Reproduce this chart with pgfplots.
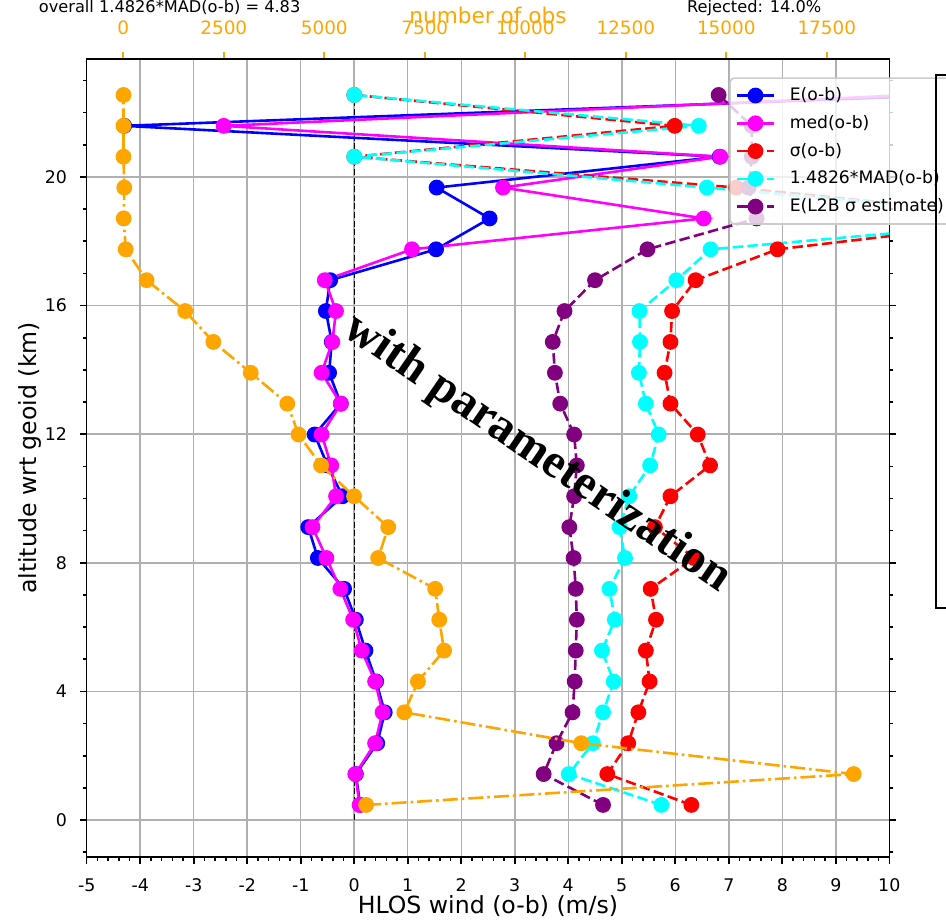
\documentclass[border=0pt]{standalone}
\usepackage{pgfplots}
\usepackage{pgfplotstable}
\pgfplotsset{compat=1.18}
\usepackage{fontspec}
\setmainfont{DejaVu Sans}
\newfontfamily\wmfont{Liberation Serif}
\definecolor{cB}{RGB}{0,0,255}
\definecolor{cM}{RGB}{255,0,255}
\definecolor{cR}{RGB}{255,0,0}
\definecolor{cC}{RGB}{0,255,255}
\definecolor{cP}{RGB}{128,0,128}
\definecolor{cO}{RGB}{255,165,0}
\definecolor{gridc}{RGB}{176,176,176}
\definecolor{legc}{RGB}{204,204,204}

\pgfplotstableread{
y     blue   mag    red    cyan   purp   obs
0.47  0.11   0.10   6.30   5.74   4.65   6040
1.43  0.03   0.02   4.73   4.01   3.54   18170
2.39  0.43   0.39   5.12   4.46   3.78   11390
3.35  0.57   0.53   5.31   4.65   4.08   6990
4.31  0.41   0.39   5.52   4.85   4.12   7330
5.27  0.21   0.14   5.45   4.63   4.14   7980
6.23  0.03   -0.02  5.64   4.87   4.16   7860
7.19  -0.19  -0.26  5.54   4.77   4.14   7760
8.15  -0.68  -0.52  6.35   5.06   4.10   6340
9.11  -0.86  -0.78  5.62   4.96   4.02   6590
10.07 -0.22  -0.34  5.91   5.14   4.11   5740
11.03 -0.50  -0.43  6.65   5.53   4.16   4920
11.99 -0.74  -0.61  6.42   5.69   4.11   4360
12.95 -0.25  -0.25  5.91   5.45   3.85   4080
13.91 -0.47  -0.61  5.80   5.32   3.75   3170
14.87 -0.42  -0.41  5.91   5.34   3.71   2240
15.83 -0.53  -0.34  5.94   5.33   3.93   1540
16.79 -0.45  -0.55  6.38   6.02   4.50   580
17.75 1.53   1.08   7.91   6.66   5.48   60
18.71 2.53   6.53   12.8   13.2   7.52   10
19.67 1.54   2.78   7.14   6.59   7.37   25
20.63 6.83   6.84   0      0      7.43   5
21.59 -4.30  -2.44  5.99   6.44   7.43   5
22.55 11.2   10.4   0      0      6.81   5
}\datatable

\begin{document}
\begin{tikzpicture}
\begin{axis}[
  at={(0pt,0pt)}, anchor=south west, scale only axis,
  width=401.3pt, height=398.7pt,
  xmin=-5, xmax=10, ymin=-1.14, ymax=23.66,
  xtick={-5,-4,...,10}, minor x tick num=4,
  ytick={0,4,...,20}, minor ytick={-1,0,...,23},
  xtick pos=lower, ytick pos=both, yticklabel pos=left,
  tick align=outside, major tick length=3.5pt, minor tick length=2pt,
  every tick/.style={black, line width=0.8pt},
  axis line style={line width=0.8pt},
  xmajorgrids, ymajorgrids,
  major grid style={color=gridc, line width=0.75pt},
  /pgf/number format/assume math mode=true,
  ticklabel style={font=\fontsize{8.7}{10.4}\selectfont},
  xticklabel style={anchor=north, inner sep=0pt, yshift=-7.3pt},
  yticklabel style={anchor=east, inner sep=0pt, xshift=-6.2pt},
  xlabel={HLOS wind (o-b) (m/s)}, ylabel={altitude wrt geoid (km)},
  label style={font=\fontsize{11.8}{14}\selectfont},
  xlabel style={at={(axis description cs:0.5,-0.071)}, anchor=base},
  ylabel style={at={(axis description cs:-0.0708,0.5)}, anchor=center},
  legend style={at={(axis description cs:0.8007,0.9774)}, anchor=north west,
    draw=legc, line width=0.8pt, rounded corners=2pt,
    fill=white, fill opacity=0.8, draw opacity=1, text opacity=1,
    font=\fontsize{8.6}{10.4}\selectfont,
    inner xsep=2.85pt, inner ysep=2.3pt, row sep=1.05pt, column sep=7.3pt,
    nodes={inner xsep=0pt, inner ysep=2.4pt}},
  legend cell align=left,
  legend image code/.code={\draw[mark repeat=2, mark phase=2, #1, fill opacity=1] plot coordinates {(0pt,0pt) (9.175pt,0pt) (18.35pt,0pt)};},
]
\addplot[black, line width=0.65pt, dash pattern=on 3pt off 1.3pt, forget plot] coordinates {(0,0) (0,22.55)};
\addplot[cB, line width=1.3pt, mark=*, mark size=3.3pt, mark options={solid, fill=cB}] table[x=blue,y=y]{\datatable};
\addlegendentry{E(o-b)}
\addplot[cM, line width=1.3pt, mark=*, mark size=3.3pt, mark options={solid, fill=cM}] table[x=mag,y=y]{\datatable};
\addlegendentry{med(o-b)}
\addplot[cR, line width=1.3pt, dash pattern=on 5.2pt off 2.2pt, mark=*, mark size=3.3pt, mark options={solid, fill=cR}] table[x=red,y=y]{\datatable};
\addlegendentry{σ(o-b)}
\addplot[cC, line width=1.3pt, dash pattern=on 5.2pt off 2.2pt, mark=*, mark size=3.3pt, mark options={solid, fill=cC}] table[x=cyan,y=y]{\datatable};
\addlegendentry{1.4826*MAD(o-b)}
\addplot[cP, line width=1.3pt, dash pattern=on 5.2pt off 2.2pt, mark=*, mark size=3.3pt, mark options={solid, fill=cP}] table[x=purp,y=y]{\datatable};
\addlegendentry{E(L2B σ estimate)}
\end{axis}

\begin{axis}[
  at={(0pt,0pt)}, anchor=south west, scale only axis,
  width=401.3pt, height=398.7pt,
  xmin=-910, xmax=19055, ymin=-1.14, ymax=23.66,
  axis x line*=top, axis y line=none,
  axis line style={line width=0.8pt, black},
  xtick={0,2500,5000,7500,10000,12500,15000,17500},
  tick align=outside, major tick length=3.5pt,
  every tick/.style={cO, line width=0.8pt},
  scaled x ticks=false,
  xticklabel style={/pgf/number format/1000 sep={}, /pgf/number format/assume math mode=true,
    text=cO, font=\fontsize{9.2}{11}\selectfont, anchor=south, inner sep=0pt, yshift=8.35pt},
  xlabel={number of obs},
  xlabel style={text=cO, font=\fontsize{10.8}{13}\selectfont, at={(axis description cs:0.5,1)}, anchor=base, yshift=18.1pt},
]
\addplot[cO, line width=1.3pt, dash pattern=on 7.5pt off 2pt on 1.3pt off 2pt, mark=*, mark size=3.3pt, mark options={solid, fill=cO}] table[x=obs,y=y]{\datatable};
\end{axis}

\node[font=\wmfont\bfseries\fontsize{24}{28}\selectfont, rotate=-34.4] at (225.1pt,201.5pt) {with parameterization};
\draw[line width=1pt] (424.65pt,124.4pt) rectangle (440pt,390.9pt);
\node[anchor=base west, inner sep=0pt, font=\fontsize{8.1}{9.7}\selectfont] at (-24.1pt,422.3pt) {overall 1.4826*MAD(o-b) = 4.83};
\node[anchor=base west, inner sep=0pt, font=\fontsize{8.1}{9.7}\selectfont] at (300pt,422.3pt) {Rejected: 14.0\%};
\pgfresetboundingbox
\path[use as bounding box] (-43.35pt,-31.65pt) rectangle (429.65pt,428.35pt);
\end{tikzpicture}
\end{document}
